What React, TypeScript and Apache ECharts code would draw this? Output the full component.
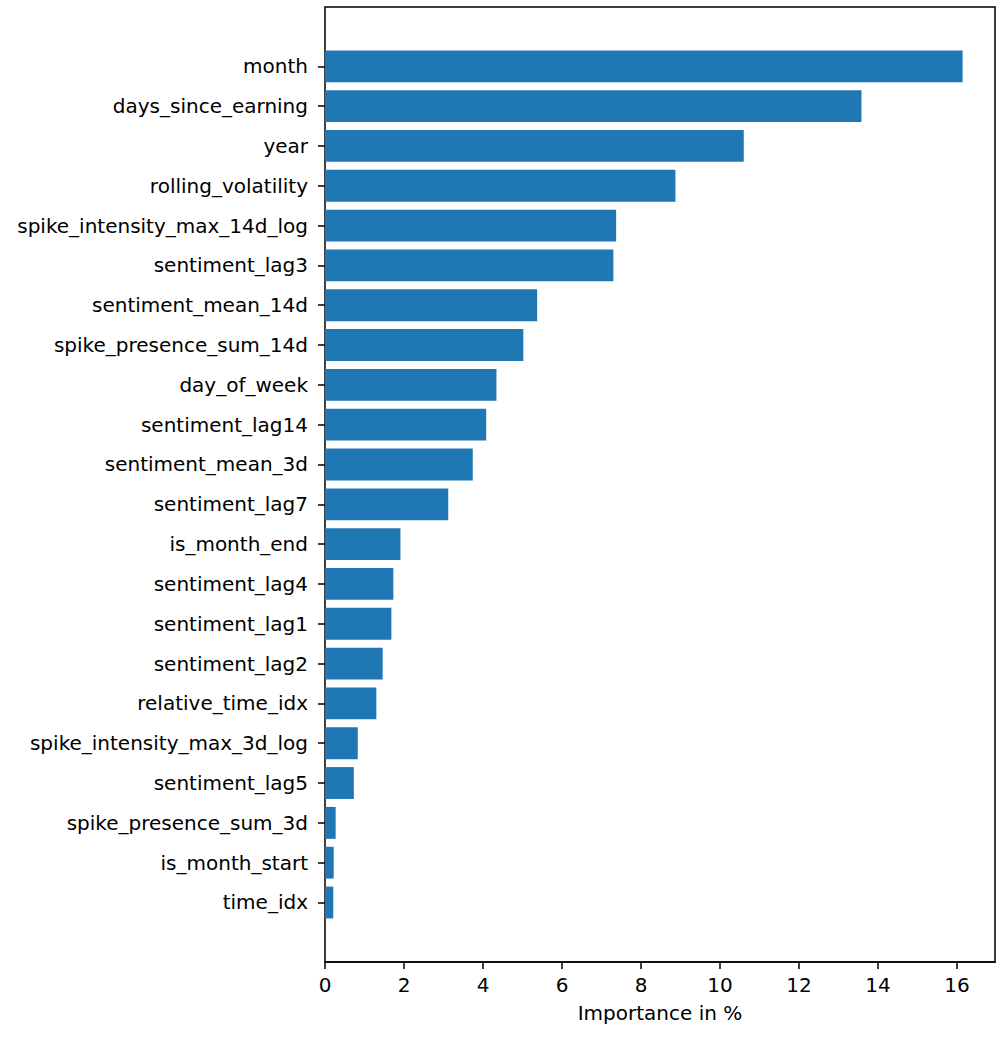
import { useEffect, useRef } from "react";
import * as echarts from "echarts";

// feature names, top to bottom
const features = [
  "month",
  "days_since_earning",
  "year",
  "rolling_volatility",
  "spike_intensity_max_14d_log",
  "sentiment_lag3",
  "sentiment_mean_14d",
  "spike_presence_sum_14d",
  "day_of_week",
  "sentiment_lag14",
  "sentiment_mean_3d",
  "sentiment_lag7",
  "is_month_end",
  "sentiment_lag4",
  "sentiment_lag1",
  "sentiment_lag2",
  "relative_time_idx",
  "spike_intensity_max_3d_log",
  "sentiment_lag5",
  "spike_presence_sum_3d",
  "is_month_start",
  "time_idx",
];

// importance in %, same order
const importance = [
  16.14, 13.58, 10.6, 8.87, 7.37, 7.3, 5.37, 5.02, 4.34, 4.08, 3.74, 3.12,
  1.91, 1.73, 1.68, 1.46, 1.3, 0.83, 0.73, 0.27, 0.22, 0.21,
];

const xTicks = [0, 2, 4, 6, 8, 10, 12, 14, 16];

const FONT = "DejaVu Sans";

function App() {
  const chartRef = useRef(null);

  useEffect(() => {
    const chart = echarts.init(chartRef.current, null, { renderer: "svg" });

    // matplotlib style: 5% margin past the longest bar
    const xMax = 16.96;

    const option = {
      animation: false,
      backgroundColor: "#fff",
      grid: [
        // outer frame
        {
          left: 325,
          top: 7,
          width: 670,
          height: 955,
          show: true,
          borderColor: "#000",
          borderWidth: 1.5,
          backgroundColor: "transparent",
        },
        // bars, with the empty margins above and below
        {
          left: 325,
          top: 46.4,
          width: 670,
          height: 876,
        },
      ],
      xAxis: [
        {
          gridIndex: 0,
          type: "value",
          min: 0,
          max: xMax,
          splitLine: { show: false },
          axisLine: { show: true, lineStyle: { color: "#000", width: 1.5 } },
          axisTick: {
            show: true,
            length: 7,
            lineStyle: { color: "#000", width: 1.5 },
            customValues: xTicks,
          },
          axisLabel: {
            color: "#000",
            fontFamily: FONT,
            fontSize: 20,
            margin: 13,
            customValues: xTicks,
          },
          name: "Importance in %",
          nameLocation: "middle",
          nameGap: 41,
          nameTextStyle: { color: "#000", fontFamily: FONT, fontSize: 20 },
        },
        {
          gridIndex: 1,
          type: "value",
          min: 0,
          max: xMax,
          show: false,
        },
      ],
      yAxis: [
        {
          gridIndex: 0,
          type: "value",
          show: false,
        },
        {
          gridIndex: 1,
          type: "category",
          inverse: true,
          data: features,
          axisLine: { show: false },
          axisTick: {
            show: true,
            alignWithLabel: true,
            length: 7,
            lineStyle: { color: "#000", width: 1.5 },
          },
          axisLabel: {
            color: "#000",
            fontFamily: FONT,
            fontSize: 20,
            margin: 17,
            interval: 0,
          },
        },
      ],
      series: [
        {
          type: "bar",
          xAxisIndex: 1,
          yAxisIndex: 1,
          data: importance,
          barWidth: "80%",
          itemStyle: { color: "#1f77b4" },
        },
      ],
    };

    chart.setOption(option);
    return () => {
      chart.dispose();
    };
  }, []);

  return (
    <div
      ref={chartRef}
      style={{ position: "absolute", left: 0, top: 0, width: 1005, height: 1040 }}
    ></div>
  );
}

export default App;
